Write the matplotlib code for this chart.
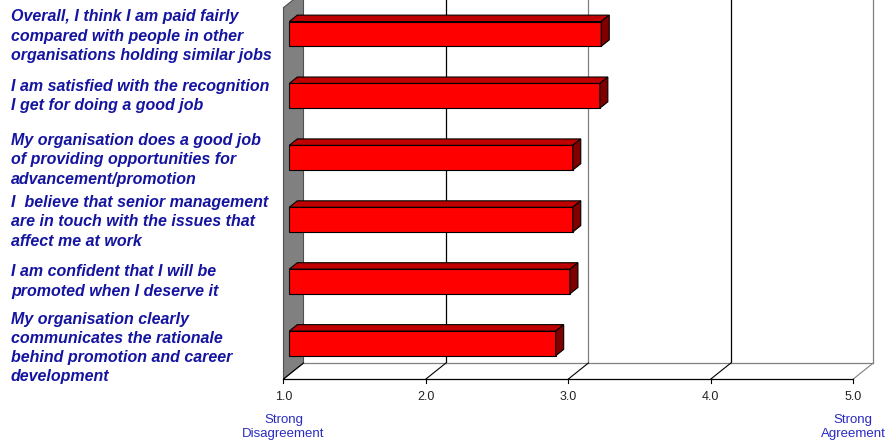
import matplotlib
matplotlib.use('Agg')
import matplotlib.pyplot as plt
import matplotlib.transforms as mtransforms

plt.rcParams['font.family'] = ['Liberation Sans', 'DejaVu Sans']

# statements, top to bottom as shown
labels = [
    'Overall, I think I am paid fairly\ncompared with people in other\norganisations holding similar jobs',
    'I am satisfied with the recognition\nI get for doing a good job',
    'My organisation does a good job\nof providing opportunities for\nadvancement/promotion',
    'I  believe that senior management\nare in touch with the issues that\naffect me at work',
    'I am confident that I will be\npromoted when I deserve it',
    'My organisation clearly\ncommunicates the rationale\nbehind promotion and career\ndevelopment',
]
scores = [3.19, 3.18, 2.99, 2.99, 2.97, 2.87]
ticks = [1.0, 2.0, 3.0, 4.0, 5.0]
tick_labels = ['1.0', '2.0', '3.0', '4.0', '5.0']

W, H = 887, 441
px_x = 142.45   # pixels per score unit
px_y = 61.9     # pixels per category
x0_px, floor_px = 283.5, 379

fig = plt.figure(figsize=(W / 100, H / 100), dpi=100)
ax = fig.add_axes([x0_px / W, (H - floor_px) / H, (W - x0_px) / W, floor_px / H])
ax.set_xlim(1, 1 + (W - x0_px) / px_x)
ax.set_ylim(-0.5, -0.5 + floor_px / px_y)
ax.axis('off')

# 3d depth offsets in data units
DX = 20 / px_x
DY = 16 / px_y
zf, zb = 0.29, 0.69   # bar front/back depth
bh = 0.4
n = len(scores)
ypos = [n - 1 - i for i in range(n)]
top = n - 0.5

# side wall
ax.fill([1, 1 + DX, 1 + DX, 1], [-0.5, -0.5 + DY, top + DY, top],
        facecolor='#808080', edgecolor='#505050', lw=0.8, zorder=1, clip_on=False)

# back wall gridlines and floor
grid_cols = ['black', '#808080', 'black', '#808080']
for t, c in zip(ticks[1:], grid_cols):
    ax.plot([t + DX, t + DX], [-0.5 + DY, top + DY], color=c, lw=0.9, zorder=1)
ax.plot([1 + DX, 5 + DX], [-0.5 + DY, -0.5 + DY], color='#808080', lw=0.9, zorder=1)
for t in ticks:
    c = '#808080' if t == 5 else 'black'
    ax.plot([t, t + DX], [-0.5, -0.5 + DY], color=c, lw=0.8, zorder=1)
ax.plot([1, 5], [-0.5, -0.5], color='black', lw=0.9, zorder=2, clip_on=False)

for t, tl in zip(ticks, tick_labels):
    ax.plot([t, t], [-0.5, -0.5 - 4 / px_y], color='black', lw=0.8, clip_on=False)
    ax.annotate(tl, (t, -0.5), xytext=(0, -13), textcoords='offset points',
                ha='center', va='center', fontsize=9, color='#222222')

ax.annotate('Strong\nDisagreement', (1, -0.5), xytext=(0, -34.5), textcoords='offset points',
            ha='center', va='center', fontsize=9.5, color='#2a2ac0', linespacing=1.15)
ax.annotate('Strong\nAgreement', (5, -0.5), xytext=(0, -34.5), textcoords='offset points',
            ha='center', va='center', fontsize=9.5, color='#2a2ac0', linespacing=1.15)

# bars: front face, top face, side face
for y, v in zip(ypos, scores):
    fx = 1 + zf * DX
    fy = y + zf * DY
    d = zb - zf
    ax.barh(fy, v - 1, left=fx, height=bh, color='#ff0000', edgecolor='black',
            lw=0.8, zorder=5)
    x1 = v + zf * DX
    yt = fy + bh / 2
    yb = fy - bh / 2
    ax.fill([fx, x1, x1 + d * DX, fx + d * DX], [yt, yt, yt + d * DY, yt + d * DY],
            facecolor='#c00000', edgecolor='black', lw=0.8, zorder=5)
    ax.fill([x1, x1 + d * DX, x1 + d * DX, x1], [yb, yb + d * DY, yt + d * DY, yt],
            facecolor='#800000', edgecolor='black', lw=0.8, zorder=5)

# category labels
trans = mtransforms.blended_transform_factory(fig.transFigure, ax.transData)
for y, lab in zip(ypos, labels):
    k = lab.count('\n') + 1
    tr = mtransforms.offset_copy(trans, fig=fig, y=-(k - 2) * 2.2, units='dots')
    ax.text(11 / W, y + zf * DY, lab, transform=tr, ha='left', va='center',
            fontsize=11.5, fontweight='bold', fontstyle='italic', color='#1414a0',
            linespacing=1.35)

fig.savefig('out.png', dpi=100)
